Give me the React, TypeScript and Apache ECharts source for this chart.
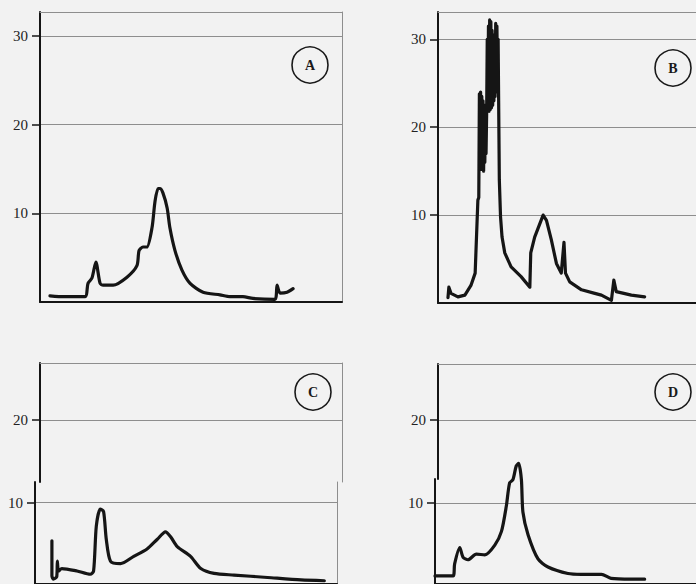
import React, { useEffect, useRef } from "react";
import * as echarts from "echarts";

// ---- Panel A ----
const aX = [3.3, 8, 14.9, 15.9, 17.2, 18.5, 19.9, 20.9, 24.2, 28.8, 32.1, 32.8, 34.1, 35.4, 37.1, 38.1, 39.1, 39.7, 40.7, 42.1, 43.0, 44.7, 47.0, 49.7, 54.0, 59.6, 62.9, 67.2, 70.5, 77.8, 78.5, 79.5, 81.8, 83.8];
const aY = [0.7, 0.6, 0.6, 2.1, 2.7, 4.5, 2.1, 1.9, 1.9, 2.8, 4.1, 5.8, 6.2, 6.2, 8.4, 11.4, 12.8, 12.8, 12.3, 10.6, 8.4, 5.8, 3.6, 2.1, 1.1, 0.8, 0.6, 0.6, 0.4, 0.3, 1.9, 1.0, 1.1, 1.5];

// ---- Panel B ----
const bX = [3.3, 3.6, 4.3, 6.6, 8.9, 10.9, 12.3, 13.2,
  13.5, 13.7, 13.9, 14.1, 14.3, 14.5, 14.7, 14.9, 15.1, 15.3, 15.5, 15.7, 15.9, 16.1,
  16.3, 16.5, 16.7, 16.9, 17.1, 17.3, 17.5, 17.7, 17.9, 18.1, 18.3, 18.5, 18.7, 18.9, 19.1, 19.3, 19.5, 19.7, 19.9,
  20.3, 20.7, 21.2, 22.1, 24.2, 27.5, 30.4, 30.7, 32.0, 34.8, 35.9, 37.5, 39.2, 40.8, 41.7, 42.2, 43.6, 47.5, 51.9, 54.1, 57.4, 58.2, 59.0, 64.0, 68.4];
const bY = [0.6, 1.8, 1.1, 0.7, 0.9, 2.0, 3.4, 11.7,
  12, 23.8, 16, 24, 15.2, 23.5, 15.5, 23, 15, 22.5, 16, 22, 17, 21.5,
  30, 22, 31.5, 21.8, 32.2, 22, 32, 22.2, 31, 22.5, 29, 23, 30.5, 23.5, 31.8, 24, 31.5, 26, 30,
  14, 9.8, 7.5, 5.7, 4.1, 3.0, 1.8, 5.7, 7.5, 10.0, 9.4, 7.2, 4.5, 3.4, 6.9, 3.4, 2.4, 1.5, 1.1, 0.9, 0.3, 2.6, 1.3, 0.9, 0.7];

// ---- Panel C ----
const cX = [5.6, 5.6, 6.1, 7.2, 7.4, 7.8, 8.9, 13.9, 18.3, 19.4, 20.3, 21.6, 22.7, 23.6, 25.0, 28.3, 32.7, 37.1, 40.5, 43.2, 44.9, 47.1, 51.5, 54.9, 59.3, 65.9, 77.0, 88.1, 95.8];
const cY = [5.3, 1.0, 0.6, 0.9, 2.8, 1.6, 1.9, 1.6, 1.2, 1.6, 7.1, 9.2, 8.9, 5.5, 2.8, 2.5, 3.4, 4.3, 5.5, 6.4, 5.8, 4.6, 3.4, 1.9, 1.3, 1.1, 0.8, 0.5, 0.4];

// ---- Panel D ----
const dX = [0, 6.0, 6.5, 8.2, 9.3, 10.9, 13.7, 16.5, 19.8, 22.0, 23.6, 24.7, 25.8, 26.9, 27.7, 28.6, 29.1, 30.8, 34.1, 37.4, 44.0, 48.5, 55.1, 58.3, 65.0, 69.4];
const dY = [1.0, 1.0, 2.5, 4.5, 3.3, 3.0, 3.7, 3.6, 4.8, 6.5, 9.6, 12.5, 12.9, 14.6, 14.9, 12.9, 8.9, 6.1, 3.1, 2.1, 1.3, 1.2, 1.2, 0.7, 0.6, 0.6];

const panelLetters = ["A", "B", "C", "D"];
const ticksAB = [10, 20, 30];
const ticksUpper = [20];
const ticksLower = [10];

const SERIF = '"Liberation Serif", "DejaVu Serif", serif';
const INK = "#151515";
const GRID_GRAY = "#8e8e8e";

type Part = {
  left: number; top: number; width: number; height: number;
  xMax: number; min: number; max: number; ticks: number[];
  topBorder: boolean; bottomAxis: boolean; rightBorder: boolean;
};

// layout of each plotting area (upper/lower pieces of the scanned C and D panels);
// B and D run past the right edge of the page, so their visible x range is shorter.
const parts: Part[] = [
  { left: 40, top: 12, width: 302, height: 290, xMax: 100, min: 0, max: 32.7, ticks: ticksAB, topBorder: true, bottomAxis: true, rightBorder: true },     // A
  { left: 438, top: 12, width: 258, height: 291, xMax: 85.4, min: 0, max: 33.1, ticks: ticksAB, topBorder: true, bottomAxis: true, rightBorder: false }, // B
  { left: 40, top: 363, width: 302, height: 119, xMax: 100, min: 12.53, max: 26.87, ticks: ticksUpper, topBorder: true, bottomAxis: false, rightBorder: true }, // C upper
  { left: 35, top: 482, width: 302, height: 104, xMax: 100, min: 0, max: 12.53, ticks: ticksLower, topBorder: false, bottomAxis: true, rightBorder: true },    // C lower
  { left: 438, top: 364, width: 258, height: 115, xMax: 85.4, min: 12.98, max: 26.67, ticks: ticksUpper, topBorder: true, bottomAxis: false, rightBorder: false }, // D upper
  { left: 435, top: 479, width: 261, height: 109, xMax: 86.4, min: 0, max: 12.98, ticks: ticksLower, topBorder: false, bottomAxis: true, rightBorder: false },    // D lower
];

const curves = [
  { x: aX, y: aY, part: 0, smooth: 0.25 },
  { x: bX, y: bY, part: 1, smooth: 0 },
  { x: cX, y: cY, part: 3, smooth: 0.25 },
  { x: dX, y: dY, part: 5, smooth: 0.25 },
];

const badges = [
  { cx: 310, cy: 65 },
  { cx: 673, cy: 68 },
  { cx: 313, cy: 392 },
  { cx: 673, cy: 392 },
];

export default function App() {
  const ref = useRef<HTMLDivElement>(null);

  useEffect(() => {
    if (!ref.current) return;
    const chart = echarts.init(ref.current, undefined, { renderer: "svg" });

    const grid = parts.map((p) => ({
      left: p.left, top: p.top, width: p.width, height: p.height, show: false,
    }));

    const xAxis: any[] = [];
    const yAxis: any[] = [];
    parts.forEach((p, i) => {
      xAxis.push({
        gridIndex: i, type: "value", min: 0, max: p.xMax, position: "bottom",
        axisLine: { show: p.bottomAxis, onZero: false, lineStyle: { color: INK, width: 2 } },
        axisTick: { show: false }, axisLabel: { show: false }, splitLine: { show: false },
      });
      xAxis.push({
        gridIndex: i, type: "value", min: 0, max: p.xMax, position: "top",
        axisLine: { show: p.topBorder, onZero: false, lineStyle: { color: GRID_GRAY, width: 1 } },
        axisTick: { show: false }, axisLabel: { show: false }, splitLine: { show: false },
      });
      yAxis.push({
        gridIndex: i, type: "value", min: p.min, max: p.max, position: "left",
        axisLine: { show: true, onZero: false, lineStyle: { color: INK, width: 2 } },
        axisTick: { show: true, length: 8, customValues: p.ticks, lineStyle: { color: INK, width: 1.5 } },
        axisLabel: {
          show: true, customValues: p.ticks, margin: 12,
          fontFamily: SERIF, fontSize: 15, color: "#222",
        },
        splitLine: { show: true, lineStyle: { color: GRID_GRAY, width: 1 } },
      });
      yAxis.push({
        gridIndex: i, type: "value", min: p.min, max: p.max, position: "right",
        axisLine: { show: p.rightBorder, onZero: false, lineStyle: { color: GRID_GRAY, width: 1 } },
        axisTick: { show: false }, axisLabel: { show: false }, splitLine: { show: false },
      });
    });

    const series = curves.map((c, k) => ({
      name: panelLetters[k],
      type: "line",
      xAxisIndex: c.part * 2,
      yAxisIndex: c.part * 2,
      data: c.x.map((v, j) => [v, c.y[j]]),
      showSymbol: false,
      symbol: "none",
      smooth: c.smooth,
      clip: false,
      silent: true,
      lineStyle: { color: INK, width: 3.2, join: "round", cap: "round" },
    }));

    const graphic: any[] = [];
    badges.forEach((b, k) => {
      graphic.push({
        type: "circle",
        shape: { cx: b.cx, cy: b.cy, r: 18 },
        style: { fill: "rgba(0,0,0,0)", stroke: "#1a1a1a", lineWidth: 1.6 },
        z: 10,
      });
      graphic.push({
        type: "text",
        x: b.cx,
        y: b.cy,
        style: {
          text: panelLetters[k],
          fontFamily: SERIF,
          fontSize: 14,
          fontWeight: "bold",
          fill: "#1a1a1a",
          align: "center",
          verticalAlign: "middle",
          textAlign: "center",
          textVerticalAlign: "middle",
        },
        z: 10,
      });
    });

    chart.setOption({
      animation: false,
      backgroundColor: "#f2f2f2",
      grid,
      xAxis,
      yAxis,
      series,
      graphic,
    });

    return () => chart.dispose();
  }, []);

  return (
    <div
      ref={ref}
      style={{ position: "fixed", left: 0, top: 0, width: 696, height: 584, background: "#f2f2f2" }}
    />
  );
}
